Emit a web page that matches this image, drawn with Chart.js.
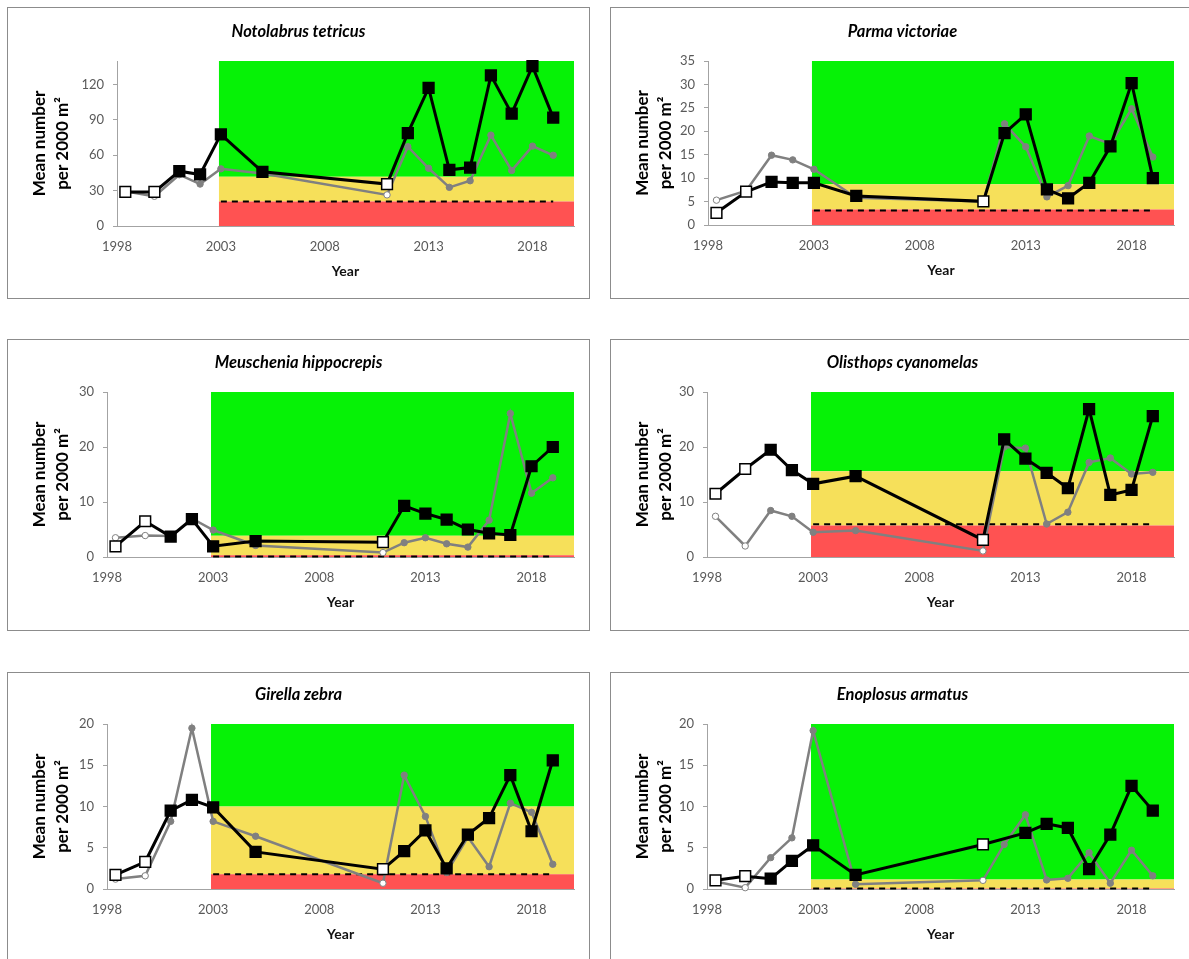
<!DOCTYPE html>
<html>
<head>
<meta charset="utf-8">
<script src="https://cdn.jsdelivr.net/npm/chart.js@4.4.1/dist/chart.umd.min.js"></script>
<style>
  html, body { margin: 0; padding: 0; background: #fff; width: 1189px; height: 959px; overflow: hidden; position: relative; }
  .frame { position: absolute; box-sizing: border-box; border: 1px solid #8c8c8c; }
  canvas { position: absolute; }
</style>
</head>
<body>
<script>
// ---- survey data ----
const surveyYears = [1998.4, 1999.8, 2001, 2002, 2003, 2005, 2011, 2012, 2013, 2014, 2015, 2016, 2017, 2018, 2019];
const hollowSurveys = [0, 1, 6];            // surveys drawn with hollow markers
const yearTicks = [1998, 2003, 2008, 2013, 2018];

const speciesNames = ['Notolabrus tetricus', 'Parma victoriae', 'Meuschenia hippocrepis',
                      'Olisthops cyanomelas', 'Girella zebra', 'Enoplosus armatus'];

const notolabrusA = [28.9, 28.9, 46.5, 43.7, 77.7, 46.0, 35.6, 78.8, 117.2, 47.7, 49.6, 127.8, 95.3, 135.7, 92.0];
const notolabrusB = [29.5, 25.2, 43.5, 35.6, 48.5, 44.5, 26.4, 67.3, 49.0, 32.8, 38.4, 77.1, 47.1, 67.8, 60.0];

const parmaA = [2.6, 7.1, 9.2, 9.0, 9.0, 6.2, 5.05, 19.6, 23.6, 7.6, 5.7, 9.0, 16.8, 30.3, 10.0];
const parmaB = [5.3, 7.3, 14.9, 13.9, 11.9, 5.8, 5.0, 21.6, 16.7, 6.0, 8.4, 19.0, 17.3, 24.8, 14.5];

const meuscheniaA = [1.95, 6.5, 3.7, 6.9, 1.95, 2.9, 2.7, 9.3, 7.9, 6.8, 5.0, 4.3, 4.0, 16.5, 20.0];
const meuscheniaB = [3.5, 3.9, 3.8, 7.0, 4.9, 2.1, 0.8, 2.6, 3.5, 2.4, 1.8, 6.7, 26.1, 11.6, 14.4];

const olisthopsA = [11.5, 16.0, 19.5, 15.8, 13.3, 14.7, 3.1, 21.4, 17.9, 15.3, 12.5, 26.9, 11.3, 12.2, 25.6];
const olisthopsB = [7.4, 2.0, 8.45, 7.4, 4.5, 4.8, 1.1, 20.0, 19.8, 6.0, 8.15, 17.2, 18.0, 15.1, 15.4];

const girellaA = [1.7, 3.3, 9.5, 10.8, 9.9, 4.5, 2.4, 4.6, 7.1, 2.5, 6.6, 8.6, 13.8, 7.0, 15.6];
const girellaB = [1.2, 1.6, 8.2, 19.5, 8.2, 6.4, 0.7, 13.8, 8.8, 2.0, 6.3, 2.7, 10.4, 9.3, 3.0];

const enoplosusA = [1.05, 1.55, 1.25, 3.4, 5.3, 1.7, 5.4, null, 6.8, 7.9, 7.4, 2.4, 6.6, 12.5, 9.5];
const enoplosusB = [0.9, 0.16, 3.8, 6.2, 19.2, 0.57, 1.05, 5.4, 9.0, 1.1, 1.3, 4.4, 0.7, 4.7, 1.6];

const seriesA = [notolabrusA, parmaA, meuscheniaA, olisthopsA, girellaA, enoplosusA];
const seriesB = [notolabrusB, parmaB, meuscheniaB, olisthopsB, girellaB, enoplosusB];

// ---- threshold bands and axes ----
const lowerLimit = [20.7, 3.3, 0.3, 5.75, 1.8, 0.05];   // top of red band
const dashLimit  = [20.7, 3.1, 0.1, 5.95, 1.8, 0.05];   // dashed reference line
const upperLimit = [41.8, 8.7, 3.85, 15.6, 10.0, 1.15]; // top of yellow band
const axisMax    = [140, 35, 30, 30, 20, 20];
const axisTicks  = [
  [0, 30, 60, 90, 120],
  [0, 5, 10, 15, 20, 25, 30, 35],
  [0, 10, 20, 30],
  [0, 10, 20, 30],
  [0, 5, 10, 15, 20],
  [0, 5, 10, 15, 20]
];
const bandYears = [2002.9, 2020];
const dashYears = [2003, 2019];
const xRange = [1998, 2020];

// ---- page layout (frame box and plot area, in page pixels) ----
const frames = [
  [7, 7, 583, 292], [610, 7, 585, 292],
  [7, 339, 583, 292], [610, 339, 585, 292],
  [7, 672, 583, 292], [610, 672, 585, 292]
];
const plotAreas = [  // left, right, top, bottom
  [117, 574, 61, 226], [708, 1174, 61, 225],
  [107, 574, 392, 557], [707, 1174, 392, 557],
  [107, 574, 724, 889], [707, 1174, 724, 889]
];

Chart.defaults.font.family = 'Lato, "Open Sans", "DejaVu Sans", sans-serif';
Chart.defaults.animation = false;

const axisGrey = '#a3a3a3';
const GREEN = '#06f206', YELLOW = '#f6e05a', RED = '#ff5252';

const centerTitle = {
  id: 'centerTitle',
  afterLayout(chart) {
    if (chart.titleBlock) { chart.titleBlock.left = 0; chart.titleBlock.right = chart.width; }
  }
};

function buildPanel(i) {
  const [bx, by, bw, bh] = frames[i];
  const [l, r, t, b] = plotAreas[i];
  const frame = document.createElement('div');
  frame.className = 'frame';
  Object.assign(frame.style, { left: bx + 'px', top: by + 'px', width: bw + 'px', height: bh + 'px' });
  document.body.appendChild(frame);

  const canvas = document.createElement('canvas');
  canvas.width = bw; canvas.height = bh;
  Object.assign(canvas.style, { left: bx + 'px', top: by + 'px', width: bw + 'px', height: bh + 'px' });
  document.body.appendChild(canvas);

  const L = l - bx, R = r - bx, T = t - by, B = b - by;
  const titleSize = 16.5, titleLH = titleSize * 1.2;
  const titleCenter = T - 29.5;
  const titlePadTop = titleCenter - titleLH / 2;
  const titlePadBottom = T - titlePadTop - titleLH;
  const xAxisHeight = 60;

  const toPoints = vals => surveyYears.map((x, k) => ({ x, y: vals[k] }));
  const hollow = k => hollowSurveys.includes(k);
  const flat = v => bandYears.map(x => ({ x, y: v }));

  new Chart(canvas, {
    type: 'line',
    data: {
      datasets: [
        {
          data: toPoints(seriesA[i]),
          borderColor: '#000', borderWidth: 3, tension: 0, spanGaps: true, clip: false,
          pointStyle: 'rect', pointRadius: 7.6, pointBorderWidth: 1.5, pointBorderColor: '#000',
          pointBackgroundColor: c => hollow(c.dataIndex) ? '#fff' : '#000'
        },
        {
          data: toPoints(seriesB[i]),
          borderColor: '#808080', borderWidth: 2.5, tension: 0, spanGaps: true, clip: false,
          pointStyle: 'circle', pointRadius: 3.2, pointBorderWidth: 1, pointBorderColor: '#808080',
          pointBackgroundColor: c => hollow(c.dataIndex) ? '#fff' : '#808080'
        },
        {
          data: dashYears.map(x => ({ x, y: dashLimit[i] })),
          borderColor: '#000', borderWidth: 2, borderDash: [6, 5], pointRadius: 0, clip: false
        },
        {
          data: flat(lowerLimit[i]), borderWidth: 0, pointRadius: 0,
          backgroundColor: RED, fill: { value: 0 }
        },
        {
          data: flat(upperLimit[i]), borderWidth: 0, pointRadius: 0,
          backgroundColor: YELLOW, fill: { value: lowerLimit[i] }
        },
        {
          data: flat(axisMax[i]), borderWidth: 0, pointRadius: 0,
          backgroundColor: GREEN, fill: { value: upperLimit[i] }
        }
      ]
    },
    options: {
      responsive: false,
      devicePixelRatio: 1,
      layout: { autoPadding: false, padding: { left: 0, top: 0, right: bw - R, bottom: bh - B - xAxisHeight } },
      plugins: {
        legend: { display: false },
        tooltip: { enabled: false },
        title: {
          display: true, text: speciesNames[i], color: '#000',
          font: { size: titleSize, weight: 'bold', style: 'italic', lineHeight: 1.2 },
          padding: { top: titlePadTop, bottom: titlePadBottom }
        }
      },
      scales: {
        x: {
          type: 'linear', min: xRange[0], max: xRange[1],
          afterBuildTicks: s => { s.ticks = yearTicks.map(v => ({ value: v })); },
          afterFit: s => { s.height = xAxisHeight; },
          grid: { display: false, drawTicks: false },
          border: { display: true, color: axisGrey, width: 1 },
          ticks: { padding: 13, color: '#595959', font: { size: 13 }, maxRotation: 0, autoSkip: false,
                   callback: v => String(v) },
          title: { display: true, text: 'Year', color: '#111', font: { size: 14, weight: 'bold', lineHeight: 1.2 },
                   padding: { top: 0, bottom: 6.6 } }
        },
        y: {
          min: 0, max: axisMax[i],
          afterBuildTicks: s => { s.ticks = axisTicks[i].map(v => ({ value: v })); },
          afterFit: s => { s.width = L; },
          grid: { display: true, drawOnChartArea: false, drawTicks: true, tickLength: 4, color: axisGrey },
          border: { display: true, color: axisGrey, width: 1 },
          ticks: { padding: 9, color: '#595959', font: { size: 13 }, callback: v => String(v) },
          title: { display: true, text: ['Mean number', 'per 2000 m\u00B2'], color: '#000',
                   font: { size: 17, weight: 'bold', lineHeight: 1.35 }, padding: { top: 21.5, bottom: 0 } }
        }
      }
    },
    plugins: [centerTitle]
  });
}

for (let i = 0; i < 6; i++) buildPanel(i);
</script>
</body>
</html>
